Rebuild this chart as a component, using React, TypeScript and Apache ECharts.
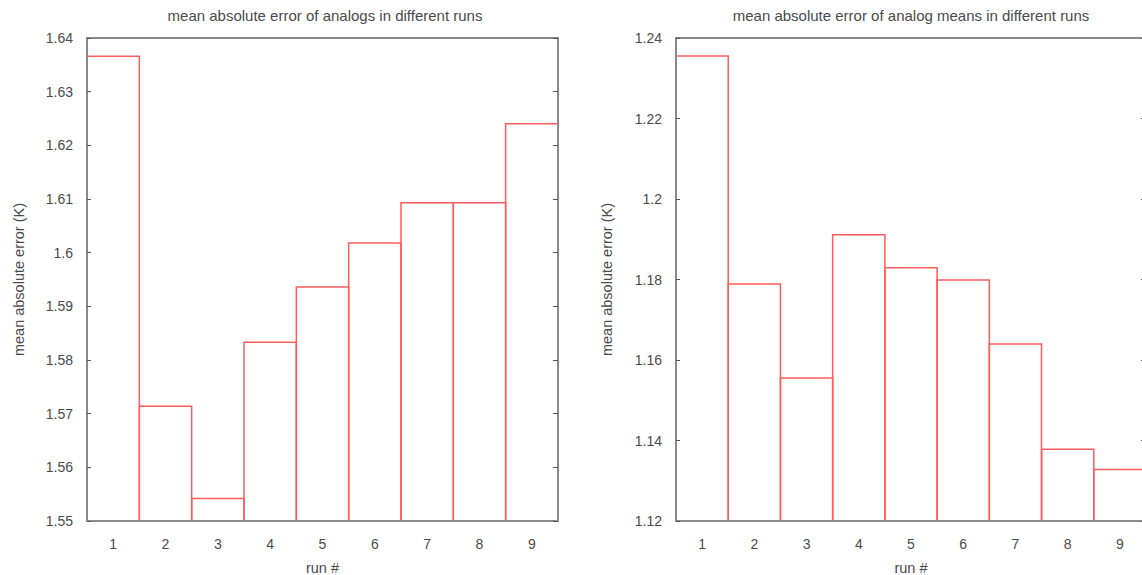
import React, { useEffect, useRef } from "react";
import * as echarts from "echarts";

const runs = ["1", "2", "3", "4", "5", "6", "7", "8", "9"];
const analogErrors = [1.6366, 1.5714, 1.5542, 1.5833, 1.5936, 1.6018, 1.6093, 1.6093, 1.624];
const analogMeanErrors = [1.2355, 1.1789, 1.1555, 1.1911, 1.1829, 1.1799, 1.164, 1.1378, 1.1328];

const leftTitle = "mean absolute error of analogs in different runs";
const rightTitle = "mean absolute error of analog means in different runs";
const yName = "mean absolute error (K)";
const xName = "run #";

const FONT = "Liberation Sans, Arial, sans-serif";
const TEXT = "#4a4a4a";
const AXIS = "#8a8a8a";
const RED = "#ff5c5c";

const fmt = (v: number) => String(parseFloat(v.toFixed(2)));

export default function App() {
  const ref = useRef<HTMLDivElement>(null);
  useEffect(() => {
    if (!ref.current) return;
    const chart = echarts.init(ref.current, undefined, { renderer: "svg" });
    const grids = [
      { left: 87, right: 590, top: 38, bottom: 54, outerBoundsMode: "none", containLabel: false },
      { left: 676, right: 2, top: 38, bottom: 54, outerBoundsMode: "none", containLabel: false },
    ];
    const labelStyle = { color: TEXT, fontSize: 14, fontFamily: FONT };
    const nameStyle = { color: TEXT, fontSize: 14.5, fontFamily: FONT };
    const mins = [1.55, 1.12];
    const maxs = [1.64, 1.24];
    const intervals = [0.01, 0.02];
    const xAxes: any[] = [];
    const yAxes: any[] = [];
    [0, 1].forEach((g) => {
      xAxes.push({
        type: "category",
        gridIndex: g,
        data: runs,
        position: "bottom",
        z: 5,
        name: xName,
        nameLocation: "middle",
        nameGap: 39,
        nameTextStyle: nameStyle,
        axisLine: { lineStyle: { color: AXIS, width: 2 } },
        axisTick: { alignWithLabel: true, inside: true, length: 3, lineStyle: { color: "#555", width: 1 } },
        axisLabel: { ...labelStyle, margin: 16 },
        splitLine: { show: false },
      });
      xAxes.push({
        type: "category",
        gridIndex: g,
        data: runs,
        position: "top",
        z: 5,
        axisLine: { lineStyle: { color: AXIS, width: 2 } },
        axisTick: { alignWithLabel: true, inside: true, length: 3, lineStyle: { color: "#555", width: 1 } },
        axisLabel: { show: false },
        splitLine: { show: false },
      });
      yAxes.push({
        type: "value",
        gridIndex: g,
        min: mins[g],
        max: maxs[g],
        interval: intervals[g],
        position: "left",
        z: 5,
        name: yName,
        nameLocation: "middle",
        nameGap: g === 0 ? 61 : 62,
        nameTextStyle: nameStyle,
        axisLine: { show: true, lineStyle: { color: AXIS, width: 2 } },
        axisTick: { show: true, inside: true, length: 4, lineStyle: { color: "#555", width: 1 } },
        axisLabel: { ...labelStyle, margin: 14, formatter: fmt },
        splitLine: { show: false },
      });
      yAxes.push({
        type: "value",
        gridIndex: g,
        min: mins[g],
        max: maxs[g],
        interval: intervals[g],
        position: "right",
        z: 5,
        axisLine: { show: true, lineStyle: { color: AXIS, width: 2 } },
        axisTick: { show: true, inside: true, length: 5, lineStyle: { color: "#555", width: 1 } },
        axisLabel: { show: false },
        splitLine: { show: false },
      });
    });
    const boxSeries = (g: number, values: number[]) => ({
      type: "custom",
      xAxisIndex: g * 2,
      yAxisIndex: g * 2,
      data: values.map((v, i) => [i, v]),
      encode: { x: 0, y: 1 },
      z: 2,
      silent: true,
      clip: true,
      renderItem: (params: any, api: any) => {
        const idx = api.value(0);
        const val = api.value(1);
        const top = api.coord([idx, val]);
        const base = api.coord([idx, mins[g]]);
        const w = api.size([1, 0])[0];
        const x0 = top[0] - w / 2;
        const x1 = top[0] + w / 2;
        return {
          type: "polyline",
          shape: {
            points: [
              [x0, base[1]],
              [x0, top[1]],
              [x1, top[1]],
              [x1, base[1]],
            ],
          },
          style: { stroke: RED, fill: null, lineWidth: 1.5 },
        };
      },
    });
    chart.setOption({
      animation: false,
      backgroundColor: "#ffffff",
      textStyle: { fontFamily: FONT },
      title: [
        {
          text: leftTitle,
          left: 320,
          top: 3,
          textAlign: "center",
          textStyle: { ...labelStyle, fontSize: 15, fontWeight: "normal" },
        },
        {
          text: rightTitle,
          left: 906,
          top: 3,
          textAlign: "center",
          textStyle: { ...labelStyle, fontSize: 15, fontWeight: "normal" },
        },
      ],
      grid: grids,
      xAxis: xAxes,
      yAxis: yAxes,
      series: [boxSeries(0, analogErrors), boxSeries(1, analogMeanErrors)],
    });
    return () => chart.dispose();
  }, []);
  return (
    <div
      style={{ position: "fixed", left: 0, top: 0, width: 1142, height: 575, overflow: "hidden", background: "#fff" }}
    >
      <div ref={ref} style={{ width: 1148, height: 575 }} />
    </div>
  );
}
